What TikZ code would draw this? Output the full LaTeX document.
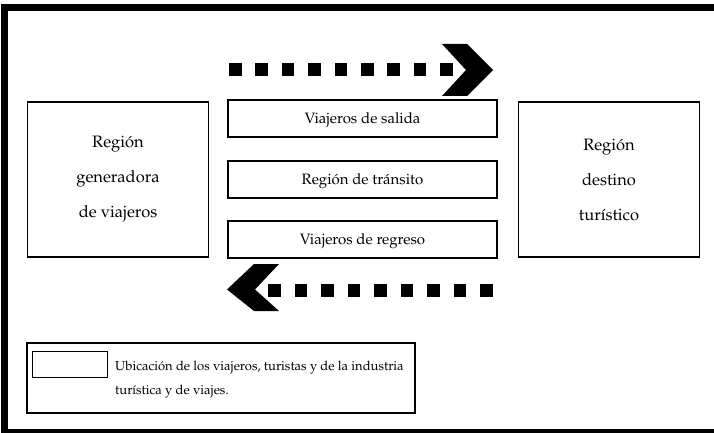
\documentclass[tikz,border=0pt]{standalone}
\usepackage[T1]{fontenc}
\renewcommand{\rmdefault}{ppl}
\begin{document}
\begin{tikzpicture}[x=1pt,y=-1pt,
  bigbox/.style={draw=black,line width=1.2pt,minimum width=181pt,minimum height=155pt,inner sep=0pt,align=center,font=\fontsize{16.5}{35}\selectfont},
  midbox/.style={draw=black,line width=1.2pt,minimum width=269pt,minimum height=37pt,inner sep=0pt,text depth=0pt,font=\fontsize{15}{17}\selectfont},
  sq/.style={fill=black},
  chev/.style={fill=black}]
\useasboundingbox (0,0) rectangle (714,433);
% frame
\fill[black] (1,4) rectangle (8,433);
\fill[black] (1,4) rectangle (714,11);
\fill[black] (1,429) rectangle (714,433);
% side boxes
\node[bigbox] (gen) at (118,179.5) {Regi\'on\\generadora\\de viajeros};
\node[bigbox] (dest) at (609,179.5) {Regi\'on\\destino\\tur\'istico};
% middle boxes
\node[midbox] (sal) at (362.5,118.5) {Viajeros de salida};
\node[midbox] (tra) at (362.5,179.5) {Regi\'on de tr\'ansito};
\node[midbox] (reg) at (362.5,239.5) {Viajeros de regreso};
% top arrow
\foreach \i in {0,...,8} {
  \fill[sq] ({229+26.4*\i},63.5) rectangle ++(12.5,13);
}
\fill[chev] (442,44) -- (467,44) -- (493,70) -- (467,96) -- (442,96) -- (466,70) -- cycle;
% bottom arrow
\foreach \i in {0,...,8} {
  \fill[sq] ({268+26.5*\i},284) rectangle ++(12.5,13);
}
\fill[chev] (279,264) -- (254,264) -- (227,289.5) -- (254,311) -- (279,311) -- (255,289.5) -- cycle;
% legend
\node[draw=black,line width=2pt,minimum width=388pt,minimum height=70pt,inner sep=0pt] (leg) at (221,378) {};
\node[draw=black,line width=1pt,minimum width=75pt,minimum height=26pt,inner sep=0pt] (legbox) at (69.5,364) {};
\node[anchor=west,align=left,inner sep=0pt,font=\fontsize{13}{24}\selectfont] (legtext) at (115,380)
  {Ubicaci\'on de los viajeros, turistas y de la industria\\tur\'istica y de viajes.};
\end{tikzpicture}
\end{document}
